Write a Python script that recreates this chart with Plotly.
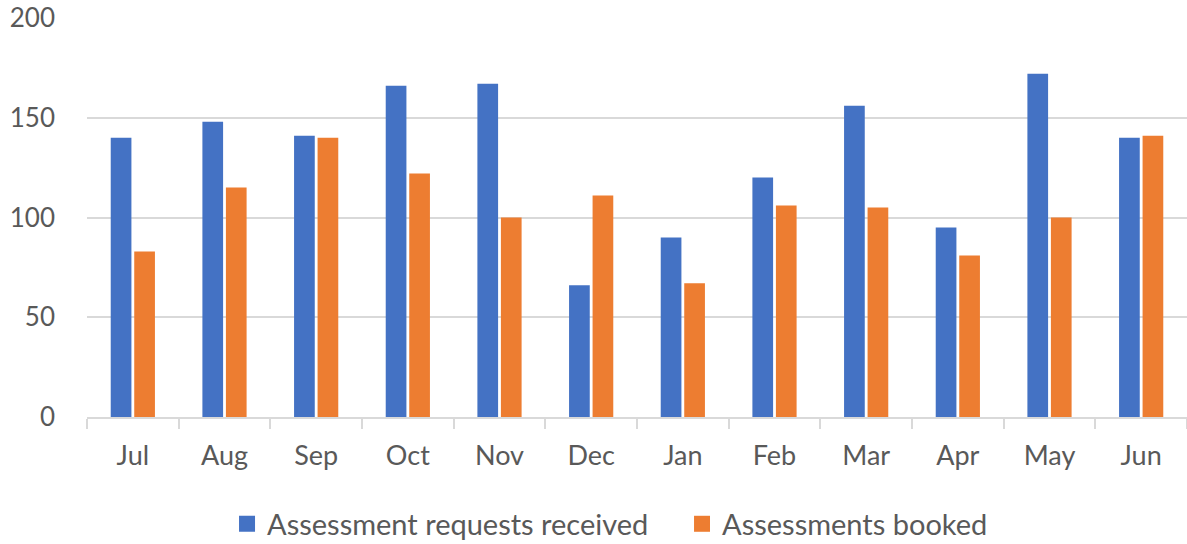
import plotly.graph_objects as go

months = ["Jul", "Aug", "Sep", "Oct", "Nov", "Dec", "Jan", "Feb", "Mar", "Apr", "May", "Jun"]
requests_received = [140, 148, 141, 166, 167, 66, 90, 120, 156, 95, 172, 140]
assessments_booked = [83, 115, 140, 122, 100, 111, 67, 106, 105, 81, 100, 141]
y_ticks = [0, 50, 100, 150, 200]
series_names = ["Assessment requests received", "Assessments booked"]
series_colors = ["#4472c4", "#ed7d31"]

font_family = "Lato, 'Open Sans', sans-serif"
grey_text = "#595959"
grid = "#d9d9d9"

fig = go.Figure()
for vals, name, col in zip([requests_received, assessments_booked], series_names, series_colors):
    fig.add_trace(go.Bar(x=months, y=vals, name=name, showlegend=False,
                         marker=dict(color=col, line=dict(width=0))))
# legend entries with larger square swatches
for name, col in zip(series_names, series_colors):
    fig.add_trace(go.Scatter(x=[None], y=[None], mode="markers", name=name,
                             marker=dict(symbol="square", size=18, color=col)))

fig.update_layout(
    width=1187, height=544,
    margin=dict(l=87, r=0, t=18, b=127, autoexpand=False),
    paper_bgcolor="white", plot_bgcolor="white",
    barmode="group", bargap=0.487, bargroupgap=0.12,
    font=dict(family=font_family, size=26, color=grey_text),
    showlegend=True,
    legend=dict(orientation="h", x=0.1273, xanchor="left", y=-0.268, yanchor="middle",
                font=dict(size=29, color=grey_text), itemwidth=30, entrywidth=410,
                traceorder="normal"),
    xaxis=dict(type="category", showgrid=False, showline=True, linecolor=grid, linewidth=2,
               ticks="outside", tickson="boundaries", ticklen=10, tickcolor=grid, tickwidth=2,
               ticklabelstandoff=14, tickfont=dict(size=27, color=grey_text)),
    yaxis=dict(range=[0, 200], tickvals=y_ticks, showgrid=True, gridcolor=grid, gridwidth=2,
               zeroline=False, showline=False, ticks="", ticklabelstandoff=31,
               tickfont=dict(size=26, color=grey_text)),
)

fig.write_html("out.html", config={"displayModeBar": False},
               post_script="document.body.style.margin='0';")
